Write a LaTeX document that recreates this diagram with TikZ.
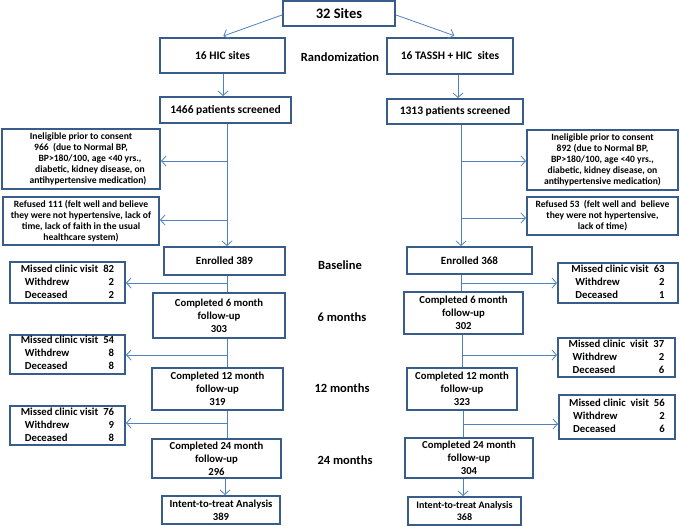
\documentclass[tikz,border=0pt]{standalone}
\usepackage{fontspec}
\setmainfont{Carlito}
\usetikzlibrary{arrows.meta}
\definecolor{boxc}{HTML}{385D8A}
\definecolor{arrc}{HTML}{4F81BD}
\begin{document}
\begin{tikzpicture}[x=1pt,y=-1pt,
 box/.style={draw=boxc, line width=2pt, fill=white, inner sep=0pt, align=center, font=\bfseries\fontsize{10.7}{13}\selectfont},
 small/.style={font=\bfseries\fontsize{9.6}{11}\selectfont},
 mid/.style={font=\bfseries\fontsize{11.5}{14}\selectfont},
 arr/.style={draw=arrc, line width=0.8pt, -{Straight Barb[length=4.5pt,width=10pt]}},
 ln/.style={draw=arrc, line width=0.8pt},
 lab/.style={font=\bfseries\fontsize{12.5}{15}\selectfont}
]
\useasboundingbox (0,0) rectangle (680,525);
% top
\node[box, font=\bfseries\fontsize{14.5}{17}\selectfont, minimum width=112pt, minimum height=25pt] (sites) at (339,13.5) {32 Sites};
\node[box, mid, minimum width=125pt, minimum height=35pt] (hic) at (222.5,55.5) {16 HIC sites};
\node[box, mid, minimum width=126pt, minimum height=36pt] (tassh) at (450,56) {16 TASSH + HIC~ sites};
\node[lab] (rand) at (340,57) {Randomization};
\node[box, mid, minimum width=131pt, minimum height=26pt] (scrL) at (225.5,110) {1466 patients screened};
\node[box, mid, minimum width=136pt, minimum height=25pt] (scrR) at (455,111.5) {1313 patients screened};
% exclusions
\node[box, small, minimum width=158pt, minimum height=60pt] (inelL) at (81,159) {Ineligible prior to consent\\966~ (due to Normal BP,\hspace*{18pt}\\\hspace*{18pt}BP>180/100, age <40 yrs.,\\\hspace*{18pt}diabetic, kidney disease, on\\\hspace*{14pt}antihypertensive medication)};
\node[box, small, minimum width=156pt, minimum height=48pt] (refL) at (81,221) {Refused 111 (felt well and believe\\they were not hypertensive, lack of\\time, lack of faith in the usual\\healthcare system)};
\node[box, small, minimum width=151pt, minimum height=60pt] (inelR) at (602.5,160) {Ineligible prior to consent\\892 (due to Normal BP,\\BP>180/100, age <40 yrs.,\\diabetic, kidney disease, on\\antihypertensive medication)};
\node[box, small, minimum width=151pt, minimum height=38pt] (refR) at (602.5,216) {Refused 53~ (felt well and~ believe\\they were not hypertensive,\\lack of time)};
% left column
\node[box, font=\bfseries\fontsize{11}{13}\selectfont, minimum width=121pt, minimum height=28pt] (enrL) at (224.5,261) {Enrolled 389};
\node[box, minimum width=132pt, minimum height=45pt] (c6L) at (219,315.5) {Completed 6 month\\follow-up\\303};
\node[box, minimum width=131pt, minimum height=42pt] (c12L) at (217.5,389) {Completed 12 month\\follow-up\\319};
\node[box, minimum width=129pt, minimum height=39pt] (c24L) at (216.5,458.5) {Completed 24 month\\follow-up\\296};
\node[box, minimum width=118pt, minimum height=28pt] (ittL) at (221,510) {Intent-to-treat Analysis\\389};
\node[box, minimum width=115pt, minimum height=41pt] (misL1) at (67.5,282.5) {\begin{tabular}{@{}l@{\hspace{5pt}}r@{}}Missed clinic visit&82\\\hspace*{4pt}Withdrew&2\\\hspace*{4pt}Deceased&2\end{tabular}};
\node[box, minimum width=115pt, minimum height=38pt] (misL2) at (67.5,354) {\begin{tabular}{@{}l@{\hspace{5pt}}r@{}}Missed clinic visit&54\\\hspace*{4pt}Withdrew&8\\\hspace*{4pt}Deceased&8\end{tabular}};
\node[box, minimum width=115pt, minimum height=39pt] (misL3) at (67.5,425.5) {\begin{tabular}{@{}l@{\hspace{5pt}}r@{}}Missed clinic visit&76\\\hspace*{4pt}Withdrew&9\\\hspace*{4pt}Deceased&8\end{tabular}};
% right column
\node[box, font=\bfseries\fontsize{11}{13}\selectfont, minimum width=125pt, minimum height=27pt] (enrR) at (469.5,260.5) {Enrolled 368};
\node[box, minimum width=119pt, minimum height=42pt] (c6R) at (463.5,313) {Completed 6 month\\follow-up\\302};
\node[box, minimum width=110pt, minimum height=42pt] (c12R) at (462,389) {Completed 12 month\\follow-up\\323};
\node[box, minimum width=128pt, minimum height=40pt] (c24R) at (469,458) {Completed 24 month\\follow-up\\304};
\node[box, font=\bfseries\fontsize{10}{12.5}\selectfont, minimum width=113pt, minimum height=28pt] (ittR) at (464.5,511) {Intent-to-treat Analysis\\368};
\node[box, minimum width=120pt, minimum height=40pt] (misR1) at (618,283) {\begin{tabular}{@{}l@{\hspace{5pt}}r@{}}Missed clinic visit&63\\\hspace*{4pt}Withdrew&2\\\hspace*{4pt}Deceased&1\end{tabular}};
\node[box, minimum width=117pt, minimum height=39pt] (misR2) at (616.5,357.5) {\begin{tabular}{@{}l@{\hspace{5pt}}r@{}}Missed clinic~ visit&37\\\hspace*{4pt}Withdrew&2\\\hspace*{4pt}Deceased&6\end{tabular}};
\node[box, minimum width=116pt, minimum height=44pt] (misR3) at (617,417) {\begin{tabular}{@{}l@{\hspace{5pt}}r@{}}Missed clinic~ visit&56\\\hspace*{4pt}Withdrew&2\\\hspace*{4pt}Deceased&6\end{tabular}};
% phase labels
\node[lab] (base) at (340,265) {Baseline};
\node[lab] (m6) at (342,317) {6 months};
\node[lab] (m12) at (342,388) {12 months};
\node[lab] (m24) at (345,460) {24 months};
% coordinates
\coordinate (vL) at (227,0);
\coordinate (vL2) at (225,0);
\coordinate (vR) at (461,0);
\coordinate (vR2) at (458,0);
\coordinate (vR3) at (463,0);
\coordinate (bL1) at (227,161);
\coordinate (bL2) at (227,220);
\coordinate (bL3) at (227,283);
\coordinate (bL4) at (227,355);
\coordinate (bL5) at (227,423);
\coordinate (bR1) at (461,161);
\coordinate (bR2) at (461,218);
\coordinate (bR3) at (461,283);
\coordinate (bR4) at (462,355);
\coordinate (bR5) at (463,424);
% connectors
\draw[arr, shorten >=3pt] ([yshift=-1.5pt]sites.west) -- ([xshift=-2pt]hic.north);
\draw[arr, shorten >=4pt] ([yshift=-1.5pt]sites.east) -- ([xshift=8pt]tassh.north);
\draw[arr] (vL |- hic.south) ++(-4,0) -- ([xshift=-2.5pt]scrL.north);
\draw[arr] (vR2 |- tassh.south) -- (vR2 |- scrR.north);
\draw[arr] (vL |- scrL.south) -- (vL |- enrL.north);
\draw[arr] (vR |- scrR.south) -- (vR |- enrR.north);
\draw[arr] (bL1) -- (bL1 -| inelL.east);
\draw[arr] (bL2) -- (bL2 -| refL.east);
\draw[arr] (bR1) -- (bR1 -| inelR.west);
\draw[arr] (bR2) -- (bR2 -| refR.west);
\draw[ln] (vL |- enrL.south) -- (vL |- c6L.north);
\draw[ln] (vL |- c6L.south) -- (vL |- c12L.north);
\draw[ln] (vL |- c12L.south) -- (vL |- c24L.north);
\draw[arr] (vL2 |- c24L.south) -- (vL2 |- ittL.north);
\draw[arr] (bL3) -- (bL3 -| misL1.east);
\draw[arr] (bL4) -- (bL4 -| misL2.east);
\draw[arr] (bL5) -- (bL5 -| misL3.east);
\draw[ln] (vR |- enrR.south) -- (vR |- c6R.north);
\draw[ln] (bR4 |- c6R.south) -- (bR4 |- c12R.north);
\draw[ln] (vR3 |- c12R.south) -- (vR3 |- c24R.north);
\draw[arr] (vR3 |- c24R.south) -- (vR3 |- ittR.north);
\draw[arr] (bR3) -- (bR3 -| misR1.west);
\draw[arr] (bR4) -- (bR4 -| misR2.west);
\draw[arr] (bR5) -- (bR5 -| misR3.west);
\end{tikzpicture}
\end{document}
